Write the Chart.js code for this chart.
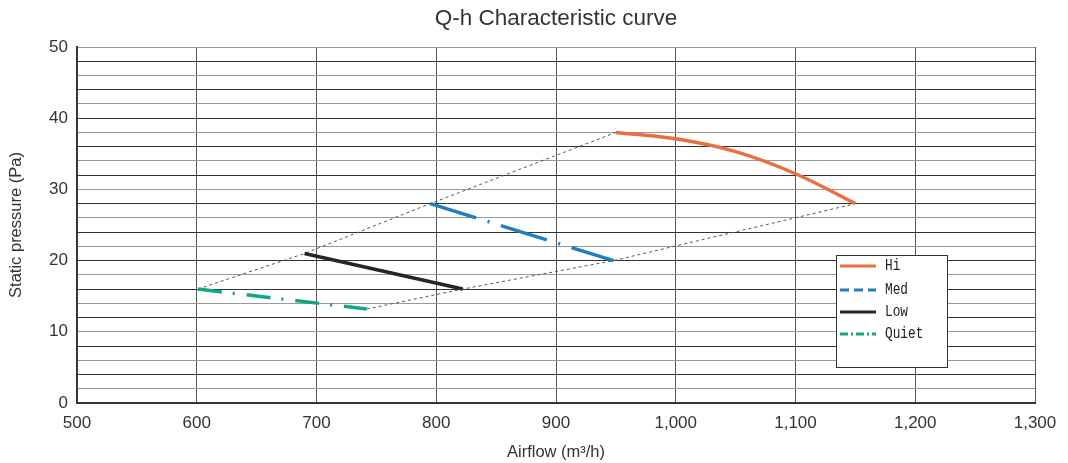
<!DOCTYPE html>
<html>
<head>
<meta charset="utf-8">
<script src="https://cdn.jsdelivr.net/npm/chart.js@4"></script>
<style>
  html, body { margin: 0; padding: 0; background: #fff; }
  #wrap { width: 1068px; height: 463px; }
</style>
</head>
<body>
<div id="wrap"><canvas id="qhChart"></canvas></div>
<script>
// Q-h characteristic curve data
const hiX = [950, 1000, 1050, 1100, 1150];
const hiY = [38, 37.1, 35.3, 32.2, 28];
const medX = [795, 948];
const medY = [28, 20];
const lowX = [690, 822];
const lowY = [21, 16];
const quietX = [601, 742];
const quietY = [16, 13.2];
// thin dashed guide lines through the end points
const upperX = [601, 690, 795, 950];
const upperY = [16, 21, 28, 38];
const lowerX = [742, 822, 948, 1150];
const lowerY = [13.2, 16, 20, 28];

const seriesNames = ["Hi", "Med", "Low", "Quiet"];
const xTicks = [500, 600, 700, 800, 900, 1000, 1100, 1200, 1300];
const yTicks = [0, 10, 20, 30, 40, 50];

function toPoints(xs, ys) {
  return xs.map((x, i) => ({ x: x, y: ys[i] }));
}

const FONT = "'Liberation Sans', Arial, sans-serif";

// title centred over the plot area
const titlePlugin = {
  id: "plotTitle",
  afterDraw(chart) {
    const ctx = chart.ctx;
    const area = chart.chartArea;
    ctx.save();
    ctx.fillStyle = "#333";
    ctx.font = "22.5px " + FONT;
    ctx.textAlign = "center";
    ctx.textBaseline = "middle";
    ctx.fillText("Q-h Characteristic curve", (area.left + area.right) / 2, 19);
    ctx.restore();
  },
};

// boxed legend with line samples
const boxLegend = {
  id: "boxLegend",
  afterDraw(chart) {
    const ctx = chart.ctx;
    ctx.save();
    ctx.fillStyle = "#fff";
    ctx.fillRect(836, 255, 112, 112);
    ctx.strokeStyle = "#333";
    ctx.lineWidth = 1;
    ctx.strokeRect(836.5, 255.5, 111, 112);
    const rows = [266, 290, 312, 334];
    seriesNames.forEach((name, i) => {
      const ds = chart.data.datasets[i];
      ctx.strokeStyle = ds.borderColor;
      ctx.lineWidth = 3;
      ctx.setLineDash(ds.legendDash || []);
      ctx.beginPath();
      ctx.moveTo(840, rows[i]);
      ctx.lineTo(876, rows[i]);
      ctx.stroke();
      ctx.setLineDash([]);
      // narrow, tall monospace look
      ctx.save();
      ctx.translate(885, rows[i]);
      ctx.scale(0.8, 1);
      ctx.fillStyle = "#222";
      ctx.font = "16px 'Liberation Mono', 'DejaVu Sans Mono', monospace";
      ctx.textAlign = "left";
      ctx.textBaseline = "middle";
      ctx.fillText(name, 0, 0);
      ctx.restore();
    });
    ctx.restore();
  },
};

const ctx = document.getElementById("qhChart").getContext("2d");

new Chart(ctx, {
  type: "scatter",
  data: {
    datasets: [
      {
        label: "Hi",
        data: toPoints(hiX, hiY),
        showLine: true,
        borderColor: "#e9703e",
        borderWidth: 3.5,
        pointRadius: 0,
        tension: 0.4,
      },
      {
        label: "Med",
        data: toPoints(medX, medY),
        showLine: true,
        borderColor: "#1f7dc1",
        borderWidth: 3.5,
        borderDash: [48, 12, 2, 12],
        legendDash: [9, 5],
        pointRadius: 0,
      },
      {
        label: "Low",
        data: toPoints(lowX, lowY),
        showLine: true,
        borderColor: "#2a2424",
        borderWidth: 3.5,
        pointRadius: 0,
      },
      {
        label: "Quiet",
        data: toPoints(quietX, quietY),
        showLine: true,
        borderColor: "#14a585",
        borderWidth: 3.5,
        borderDash: [24, 11, 2, 12],
        legendDash: [8, 3, 2, 3],
        pointRadius: 0,
      },
      {
        label: "upper",
        data: toPoints(upperX, upperY),
        showLine: true,
        borderColor: "#555",
        borderWidth: 1,
        borderDash: [3, 3],
        pointRadius: 0,
      },
      {
        label: "lower",
        data: toPoints(lowerX, lowerY),
        showLine: true,
        borderColor: "#555",
        borderWidth: 1,
        borderDash: [3, 3],
        pointRadius: 0,
      },
    ],
  },
  options: {
    responsive: true,
    maintainAspectRatio: false,
    animation: false,
    layout: { padding: { top: 47, right: 33, left: 0, bottom: 0 } },
    plugins: {
      legend: { display: false },
      title: { display: false },
      tooltip: { enabled: false },
    },
    scales: {
      x: {
        type: "linear",
        min: xTicks[0],
        max: xTicks[xTicks.length - 1],
        afterBuildTicks: (scale) => {
          scale.ticks = xTicks.map((v) => ({ value: v }));
        },
        afterFit: (scale) => {
          scale.height = 60;
        },
        grid: { color: "#555", lineWidth: 1, drawTicks: false },
        border: { color: "#3a3535", width: 2 },
        ticks: {
          padding: 10,
          color: "#333",
          font: { family: FONT, size: 17 },
          callback: (v) => v.toLocaleString("en-US"),
        },
        title: {
          display: true,
          text: "Airflow (m³/h)",
          color: "#333",
          font: { family: FONT, size: 16.5 },
          padding: { top: 0, bottom: 1 },
        },
      },
      y: {
        min: yTicks[0],
        max: yTicks[yTicks.length - 1],
        afterFit: (scale) => {
          scale.width = 77;
        },
        grid: {
          drawTicks: false,
          lineWidth: 1,
          color: (c) => (c.tick && c.tick.value % 4 === 0 ? "#333" : "#999"),
        },
        border: { color: "#3a3535", width: 2 },
        ticks: {
          stepSize: 2,
          autoSkip: false,
          padding: 9,
          color: "#333",
          font: { family: FONT, size: 17 },
          callback: (v) => (yTicks.includes(v) ? v : ""),
        },
        title: {
          display: true,
          text: "Static pressure (Pa)",
          color: "#333",
          font: { family: FONT, size: 16.5 },
          padding: { top: 7, bottom: 0 },
        },
      },
    },
  },
  plugins: [titlePlugin, boxLegend],
});
</script>
</body>
</html>
